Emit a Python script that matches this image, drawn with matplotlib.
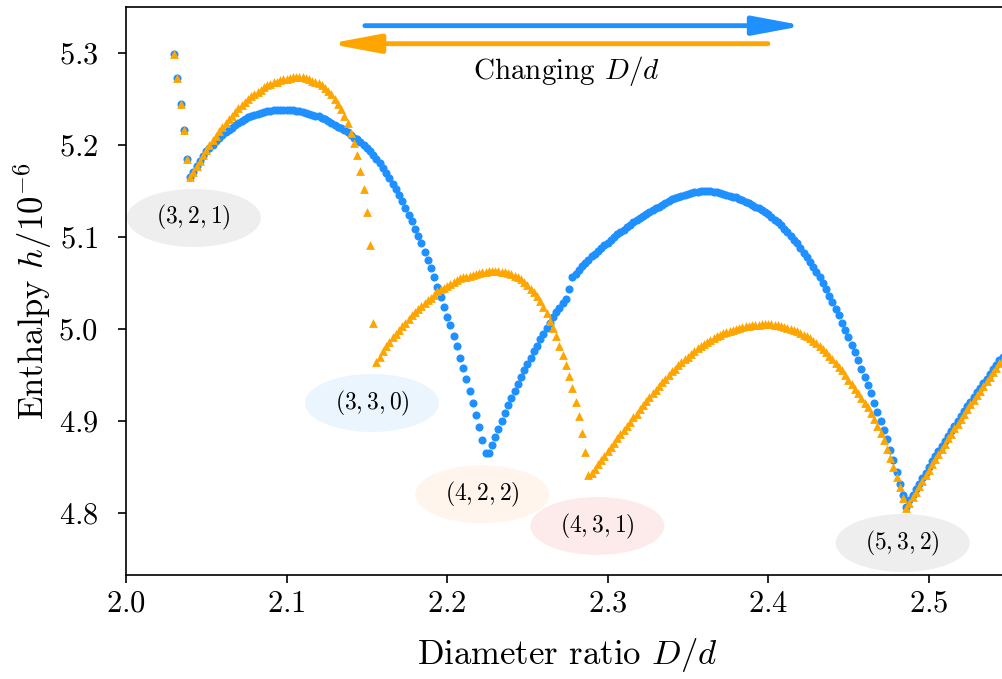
import numpy as np
import matplotlib
matplotlib.use('Agg')
import matplotlib.pyplot as plt
from matplotlib.patches import Ellipse

plt.rcParams['font.family'] = 'serif'
plt.rcParams['font.serif'] = ['cmr10']
plt.rcParams['mathtext.fontset'] = 'cm'
plt.rcParams['axes.formatter.use_mathtext'] = True

step = 0.002  # D/d sampling step of the sweep

# blue (increasing D/d), each segment: start D/d, enthalpy values
b_drop = (2.030, [5.299, 5.273, 5.245, 5.216, 5.185])
b_arc1 = (2.040, [5.165, 5.171, 5.177, 5.183, 5.188, 5.193, 5.197, 5.200, 5.204, 5.208,
                  5.211, 5.214, 5.216, 5.219, 5.222, 5.224, 5.226, 5.228, 5.230, 5.231,
                  5.233, 5.234, 5.235, 5.236, 5.237, 5.237, 5.238, 5.238, 5.238, 5.238,
                  5.238, 5.238, 5.238, 5.237, 5.237, 5.236, 5.235, 5.234, 5.233, 5.232,
                  5.231, 5.229, 5.228, 5.226, 5.224, 5.222, 5.220, 5.218, 5.216, 5.214,
                  5.211, 5.208, 5.206, 5.203, 5.200, 5.197, 5.193, 5.189, 5.185, 5.180,
                  5.175, 5.170, 5.164, 5.158, 5.152, 5.146, 5.139, 5.131, 5.124, 5.117,
                  5.109, 5.101, 5.093, 5.084, 5.075, 5.066, 5.056, 5.046, 5.035, 5.024,
                  5.013, 5.004, 4.992, 4.981, 4.969, 4.958, 4.946, 4.933, 4.920, 4.906,
                  4.893, 4.879, 4.865])
b_rise = (2.226, [4.865, 4.874, 4.883, 4.891, 4.900, 4.909, 4.917, 4.925, 4.933, 4.940,
                  4.948, 4.955, 4.962, 4.969, 4.976, 4.982, 4.989, 4.995, 5.001, 5.007,
                  5.013, 5.018, 5.023, 5.028, 5.033, 5.043])
b_arc2 = (2.278, [5.056, 5.060, 5.064, 5.068, 5.072, 5.075, 5.079, 5.082, 5.085, 5.088,
                  5.091, 5.094, 5.097, 5.100, 5.103, 5.105, 5.108, 5.111, 5.113, 5.116,
                  5.118, 5.121, 5.123, 5.125, 5.127, 5.129, 5.131, 5.133, 5.135, 5.137,
                  5.139, 5.141, 5.142, 5.144, 5.145, 5.146, 5.147, 5.148, 5.149, 5.149,
                  5.150, 5.150, 5.150, 5.150, 5.149, 5.149, 5.148, 5.147, 5.146, 5.145,
                  5.144, 5.143, 5.141, 5.140, 5.138, 5.137, 5.135, 5.133, 5.131, 5.129,
                  5.127, 5.125, 5.122, 5.119, 5.116, 5.113, 5.109, 5.105, 5.101, 5.097,
                  5.093, 5.088, 5.083, 5.078, 5.073, 5.067, 5.062, 5.056, 5.050, 5.043,
                  5.036, 5.029, 5.022, 5.015, 5.007, 4.999, 4.991, 4.983, 4.975, 4.966,
                  4.957, 4.948, 4.939, 4.930, 4.920, 4.910, 4.900, 4.890, 4.880, 4.869,
                  4.858, 4.845, 4.832, 4.820])
b_arc3 = (2.486, [4.807, 4.814, 4.820, 4.826, 4.832, 4.838, 4.844, 4.850, 4.856, 4.862,
                  4.867, 4.873, 4.878, 4.884, 4.889, 4.895, 4.900, 4.905, 4.911, 4.916,
                  4.921, 4.926, 4.931, 4.936, 4.941, 4.946, 4.951, 4.956, 4.961, 4.966,
                  4.970, 4.975])

# orange (decreasing D/d)
o_drop = (2.030, [5.299, 5.273, 5.245, 5.216, 5.185])
o_arc1 = (2.040, [5.165, 5.171, 5.177, 5.183, 5.189, 5.195, 5.200, 5.205, 5.210, 5.215,
                  5.220, 5.224, 5.228, 5.232, 5.236, 5.240, 5.243, 5.247, 5.250, 5.253,
                  5.255, 5.258, 5.260, 5.263, 5.265, 5.266, 5.268, 5.269, 5.271, 5.272,
                  5.272, 5.273, 5.274, 5.274, 5.274, 5.274, 5.273, 5.272, 5.270, 5.269,
                  5.267, 5.265, 5.262, 5.259, 5.255, 5.250, 5.245, 5.239, 5.232, 5.224,
                  5.213, 5.202, 5.189, 5.172, 5.152, 5.127, 5.091, 5.006])
o_arc2 = (2.156, [4.964, 4.970, 4.976, 4.981, 4.986, 4.991, 4.995, 4.999, 5.003, 5.007,
                  5.011, 5.015, 5.018, 5.022, 5.025, 5.028, 5.031, 5.034, 5.037, 5.041,
                  5.043, 5.045, 5.047, 5.049, 5.051, 5.053, 5.055, 5.056, 5.057, 5.058,
                  5.059, 5.060, 5.061, 5.062, 5.062, 5.063, 5.063, 5.063, 5.063, 5.062,
                  5.062, 5.061, 5.060, 5.058, 5.056, 5.054, 5.051, 5.048, 5.044, 5.040,
                  5.036, 5.030, 5.024, 5.017, 5.009, 5.001, 4.992, 4.982, 4.972, 4.961,
                  4.949, 4.936, 4.921, 4.905, 4.887, 4.866])
o_arc3 = (2.288, [4.841,
                  4.843, 4.848, 4.853, 4.858, 4.862, 4.867, 4.872, 4.876, 4.881, 4.886,
                  4.890, 4.895, 4.899, 4.904, 4.908, 4.913, 4.917, 4.922, 4.926, 4.930,
                  4.934, 4.938, 4.942, 4.946, 4.950, 4.954, 4.957, 4.961, 4.964, 4.967,
                  4.970, 4.973, 4.976, 4.979, 4.981, 4.984, 4.986, 4.988, 4.990, 4.992,
                  4.994, 4.996, 4.997, 4.998, 4.999, 5.000, 5.001, 5.002, 5.003, 5.003,
                  5.004, 5.004, 5.004, 5.005, 5.005, 5.005, 5.005, 5.004, 5.004, 5.003,
                  5.002, 5.001, 5.000, 4.999, 4.998, 4.996, 4.994, 4.992, 4.990, 4.987,
                  4.985, 4.982, 4.978, 4.975, 4.971, 4.967, 4.963, 4.959, 4.955, 4.950,
                  4.945, 4.940, 4.935, 4.930, 4.925, 4.920, 4.915, 4.909, 4.902, 4.895,
                  4.887, 4.879, 4.870, 4.860, 4.850, 4.839, 4.828, 4.816])
o_arc4 = (2.486, [4.805, 4.811, 4.817, 4.823, 4.829, 4.835, 4.841, 4.847, 4.853, 4.859,
                  4.864, 4.870, 4.875, 4.881, 4.886, 4.892, 4.897, 4.902, 4.908, 4.913,
                  4.918, 4.923, 4.928, 4.933, 4.938, 4.943, 4.948, 4.953, 4.958, 4.963,
                  4.967, 4.972])

# state labels: text, centre (D/d, h), fill colour
labels = ['$(3,2,1)$', '$(3,3,0)$', '$(4,2,2)$', '$(4,3,1)$', '$(5,3,2)$']
label_x = [2.0423, 2.1532, 2.2219, 2.2936, 2.4838]
label_y = [5.1207, 4.9196, 4.8203, 4.7859, 4.7674]
label_col = ['#eeeeee', '#ebf5fe', '#fff5ec', '#fdebeb', '#eeeeee']


def build(*segs):
    xs, ys = [], []
    for start, vals in segs:
        xs.extend(start + step * np.arange(len(vals)))
        ys.extend(vals)
    return np.array(xs), np.array(ys)


bx, by = build(b_drop, b_arc1, b_rise, b_arc2, b_arc3)
ox, oy = build(o_drop, o_arc1, o_arc2, o_arc3, o_arc4)

fig = plt.figure(figsize=(10.03, 6.79), dpi=100)
ax = fig.add_axes([126/1003, 104/679, 883/1003, 568/679])

for t, x, y, c in zip(labels, label_x, label_y, label_col):
    ax.add_patch(Ellipse((x, y), 0.0834, 0.063, fc=c, ec='none', zorder=1))
    ax.text(x, y, t, ha='center', va='center', fontsize=17, zorder=4)

ax.scatter(bx, by, s=34, c='#1e90ff', marker='o', linewidths=0, zorder=2)
ax.scatter(ox, oy, s=40, c='#ffa500', marker='^', linewidths=0, zorder=3)

ax.annotate('', xy=(2.4224, 5.3297), xytext=(2.1488, 5.3297),
            arrowprops=dict(arrowstyle='-|>,head_length=1.5,head_width=0.28',
                            color='#1e90ff', lw=3.5, mutation_scale=20,
                            shrinkA=0, shrinkB=0))
ax.annotate('', xy=(2.1264, 5.3101), xytext=(2.3998, 5.3101),
            arrowprops=dict(arrowstyle='-|>,head_length=1.5,head_width=0.28',
                            color='#ffa500', lw=3.5, mutation_scale=20,
                            shrinkA=0, shrinkB=0))
ax.text(2.2746, 5.280, 'Changing $D/d$', ha='center', va='center', fontsize=21)

ax.set_xlim(2.0, 2.55)
ax.set_ylim(4.7326, 5.35)
ax.set_xticks([2.0, 2.1, 2.2, 2.3, 2.4, 2.5])
ax.set_yticks([4.8, 4.9, 5.0, 5.1, 5.2, 5.3])
ax.tick_params(labelsize=22, length=6, width=1.2)
ax.tick_params(axis='x', pad=5)
ax.tick_params(axis='y', pad=14)
for s in ax.spines.values():
    s.set_linewidth(1.2)
ax.set_xlabel('Diameter ratio $D/d$', fontsize=25, labelpad=13)
ax.set_ylabel('Enthalpy $h/10^{-6}$', fontsize=25, labelpad=3)

fig.savefig('out.png', dpi=100)
